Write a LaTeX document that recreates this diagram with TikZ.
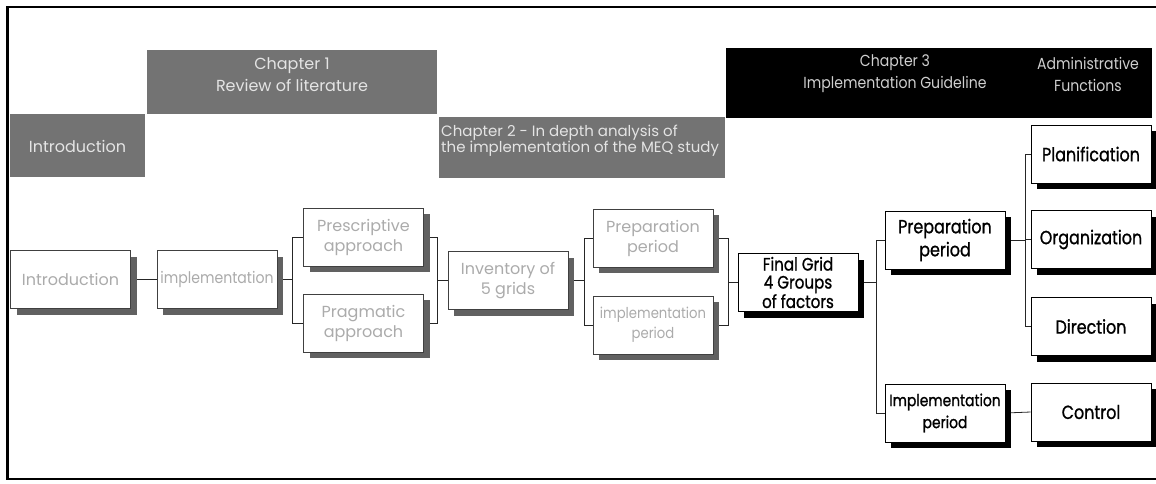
\documentclass[tikz,border=0pt]{standalone}
\usepackage{fontspec}
\setmainfont{Poppins}
\newfontfamily\midfont[FakeStretch=0.88]{Poppins}
\newfontfamily\boxfont[FakeStretch=0.84,FakeBold=1]{Poppins}
\usetikzlibrary{shadows}
\definecolor{hdrgray}{HTML}{737373}
\definecolor{hdrtext}{HTML}{E4E4E4}
\definecolor{blktext}{HTML}{CFCFCF}
\definecolor{fadetext}{HTML}{ABABAB}
\pgfdeclarelayer{bg}
\pgfsetlayers{bg,main}
\tikzset{
  hdr/.style={fill=hdrgray, draw=none, inner sep=0pt, anchor=north west},
  htext/.style={text=hdrtext, inner sep=0pt, align=center,
                font=\fontsize{16}{22}\selectfont},
  fadebox/.style={draw=black!75, line width=0.8pt, fill=white,
                  minimum width=120pt, minimum height=58pt, inner sep=0pt,
                  align=center, text=fadetext,
                  font=\fontsize{16}{20}\selectfont,
                  general shadow={fill=black!62, draw=none,
                                  shadow xshift=6pt, shadow yshift=-6pt}},
  mainbox/.style={draw=black, line width=0.8pt, fill=white,
                  minimum width=120pt, minimum height=58pt, inner sep=0pt,
                  align=center, text=black,
                  font=\boxfont\fontsize{19}{23}\selectfont,
                  general shadow={fill=black, draw=none,
                                  shadow xshift=6pt, shadow yshift=-6pt}},
  conn/.style={draw=black!85, line width=0.8pt},
}
\begin{document}
\begin{tikzpicture}[x=1pt,y=-1pt]
\useasboundingbox (0,0) rectangle (1156,483);

% outer frame (open on the right)
\draw[line width=2.5pt] (1156,7) -- (7.5,7) -- (7.5,479) -- (1156,479);

% header bands
\node[hdr, minimum width=135pt, minimum height=63pt] (hintro) at (10,114) {};
\node[htext] (hintrot) at (77.5,146) {Introduction};
\node[hdr, minimum width=290pt, minimum height=64pt] (hch1) at (147,50) {};
\node[htext] (hch1t) at (292,75) {Chapter 1\\Review of literature};
\node[hdr, minimum width=286pt, minimum height=61pt] (hch2) at (439,117) {};
\node[htext, align=left, anchor=west, font=\fontsize{15}{16}\selectfont]
  (hch2t) at (441,141) {Chapter 2 - In depth analysis of\\the implementation of the MEQ study};
\node[hdr, fill=black, minimum width=426pt, minimum height=70pt] (hch3) at (726,48) {};
\node[htext, text=blktext, font=\midfont\fontsize{16}{22}\selectfont] (hch3t) at (895,74) {Chapter 3\\Implementation Guideline};
\node[htext, text=blktext, font=\midfont\fontsize{16}{22}\selectfont] (hadm) at (1088,74) {Administrative\\Functions};

% review of literature and analysis boxes
\node[fadebox] (intro) at (70.5,279.5) {Introduction};
\node[fadebox, font=\midfont\fontsize{16}{20}\selectfont] (impl) at (217,279.5) {implementation};
\node[fadebox] (presc) at (363.5,237) {Prescriptive\\approach};
\node[fadebox] (prag) at (363.5,323) {Pragmatic\\approach};
\node[fadebox] (inv) at (508,280.5) {Inventory of\\5 grids};
\node[fadebox] (prep2) at (653,238) {Preparation\\period};
\node[fadebox, font=\midfont\fontsize{15}{20}\selectfont] (impl2) at (653,325) {implementation\\period};

% guideline boxes
\node[mainbox, font=\boxfont\fontsize{18}{18}\selectfont] (final) at (798,282.5) {Final Grid\\4 Groups\\of factors};
\node[mainbox] (prep3) at (945,240) {Preparation\\period};
\node[mainbox, font=\boxfont\fontsize{16.5}{22}\selectfont] (impl3) at (945,413) {Implementation\\period};
\node[mainbox] (plan) at (1091,154) {Planification};
\node[mainbox] (org) at (1091,239.5) {Organization};
\node[mainbox] (dir) at (1091,326.5) {Direction};
\node[mainbox] (ctrl) at (1091,412) {Control};

% bracket positions
\coordinate (k1) at (292,280);
\coordinate (k2) at (437,280);
\coordinate (k3) at (584,280);
\coordinate (k4) at (728,280);
\coordinate (k5) at (876,280);
\coordinate (k6) at (1025,240);

\begin{pgfonlayer}{bg}
\draw[conn] (intro.east) -- (impl.west);
\draw[conn] (impl.east) -- (impl.east -| k1);
\draw[conn] (presc.west) -- (presc.west -| k1) -- (prag.west -| k1) -- (prag.west);
\draw[conn] (presc.east) -- (presc.east -| k2) -- (prag.east -| k2) -- (prag.east);
\draw[conn] (inv.west -| k2) -- (inv.west);
\draw[conn] (inv.east) -- (inv.east -| k3);
\draw[conn] (prep2.west) -- (prep2.west -| k3) -- (impl2.west -| k3) -- (impl2.west);
\draw[conn] (prep2.east) -- (prep2.east -| k4) -- (impl2.east -| k4) -- (impl2.east);
\draw[conn] (final.west -| k4) -- (final.west);
\draw[conn] (final.east) -- (final.east -| k5);
\draw[conn] (prep3.west) -- (prep3.west -| k5) -- (impl3.west -| k5) -- (impl3.west);
\draw[conn] (prep3.east) -- (prep3.east -| k6);
\draw[conn] (plan.west) -- (plan.west -| k6) -- (dir.west -| k6) -- (dir.west);
\draw[conn] (org.west -| k6) -- (org.west);
\draw[conn] (impl3.east) -- (ctrl.west);
\end{pgfonlayer}
\end{tikzpicture}
\end{document}
